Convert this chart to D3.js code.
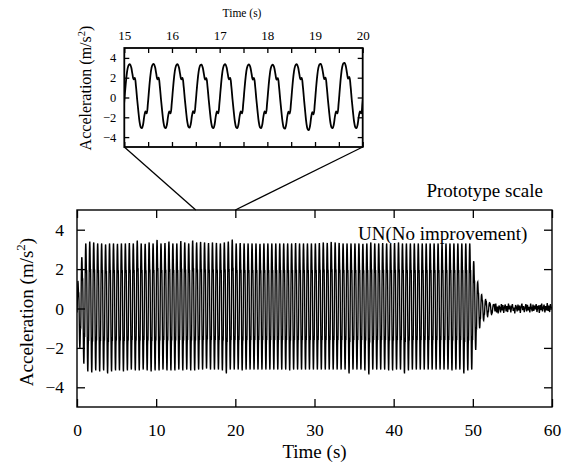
<!DOCTYPE html>
<html><head><meta charset="utf-8">
<script src="https://cdn.jsdelivr.net/npm/d3@7"></script>
<style>
body{margin:0;background:#fff}
svg{display:block}
text{font-family:"Liberation Serif","Times New Roman",Times,serif;fill:#000}
</style>
</head><body>
<svg id="c" width="574" height="466"></svg>
<script>
// ---------- data ----------
const mainXTicks = [0, 10, 20, 30, 40, 50, 60];
const mainYTicks = [-4, -2, 0, 2, 4];
const insetXTicks = [15, 16, 17, 18, 19, 20];
const insetXMinor = [15.5, 16.5, 17.5, 18.5, 19.5];
const insetYTicks = [-4, -2, 0, 2, 4];

// excitation: 2 Hz, first peak at 0.12 s
const firstPeakTime = 0.12;
const periodSec = 0.5;
// one reference cycle (peak to peak), 20 samples, m/s^2
const cycleShape = [3.30, 3.00, 2.35, 1.80, 1.95, 1.10, -0.20, -1.40, -2.45, -3.00,
                    -3.10, -2.70, -1.85, -1.40, -1.60, -0.60, 0.80, 2.05, 2.90, 3.25];
const shapePeak = 3.30, shapeTrough = -3.10;

// peak value of each cycle
const peaks = [
  1.40, 2.60, 3.30, 3.40, 3.35, 3.30, 3.30, 3.25, 3.30, 3.30,
  3.28, 3.30, 3.30, 3.32, 3.30, 3.45, 3.30, 3.28, 3.35, 3.30,
  3.48, 3.30, 3.32, 3.40, 3.30, 3.30, 3.42, 3.35, 3.30, 3.45,
  3.35, 3.38, 3.35, 3.32, 3.35, 3.33, 3.30, 3.35, 3.40, 3.50,
  3.30, 3.32, 3.30, 3.30, 3.30, 3.30, 3.28, 3.30, 3.30, 3.30,
  3.30, 3.30, 3.30, 3.30, 3.30, 3.32, 3.30, 3.30, 3.30, 3.30,
  3.30, 3.32, 3.35, 3.33, 3.38, 3.35, 3.33, 3.30, 3.30, 3.30,
  3.30, 3.30, 3.28, 3.30, 3.35, 3.30, 3.30, 3.32, 3.30, 3.30,
  3.32, 3.35, 3.30, 3.30, 3.30, 3.30, 3.30, 3.30, 3.30, 3.30,
  3.30, 3.30, 3.30, 3.30, 3.30, 3.30, 3.30, 3.30, 3.30, 3.30,
  2.40, 1.35, 0.70, 0.45, 0.30
];
// trough value of each cycle
const troughs = [
  -2.00, -2.80, -3.20, -3.25, -3.15, -3.20, -3.15, -3.30, -3.20, -3.15,
  -3.15, -3.20, -3.15, -3.10, -3.15, -3.15, -3.10, -3.15, -3.20, -3.15,
  -3.15, -3.10, -3.15, -3.15, -3.15, -3.10, -3.15, -3.10, -3.15, -3.15,
  -3.10, -3.10, -3.05, -3.10, -3.10, -3.10, -3.15, -3.30, -3.10, -3.10,
  -3.10, -3.15, -3.10, -3.10, -3.10, -3.10, -3.10, -3.10, -3.10, -3.10,
  -3.10, -3.10, -3.10, -3.15, -3.10, -3.10, -3.10, -3.10, -3.10, -3.10,
  -3.10, -3.10, -3.10, -3.10, -3.10, -3.10, -3.10, -3.10, -3.30, -3.10,
  -3.10, -3.10, -3.15, -3.35, -3.10, -3.10, -3.10, -3.10, -3.15, -3.15,
  -3.10, -3.10, -3.30, -3.15, -3.10, -3.10, -3.10, -3.10, -3.10, -3.10,
  -3.10, -3.10, -3.10, -3.10, -3.15, -3.10, -3.10, -3.30, -3.15, -3.10,
  -2.10, -1.00, -0.60, -0.40, -0.30
];
const startValue = -0.20;
// residual vibration after the excitation stops (0.1 s step)
const tailStart = 52.7, tailStep = 0.1;
const tail = [
  0.20, -0.15, 0.25, -0.20, 0.10, -0.25, 0.15, 0.05, -0.20, 0.22,
  -0.10, 0.18, -0.22, 0.08, 0.20, -0.15, 0.12, -0.18, 0.25, -0.05,
  0.15, -0.20, 0.10, 0.22, -0.12, 0.05, -0.25, 0.18, 0.08, -0.15,
  0.20, -0.10, 0.15, -0.22, 0.10, 0.25, -0.08, 0.12, -0.18, 0.05,
  0.22, -0.15, 0.18, -0.10, 0.08, -0.20, 0.25, 0.02, -0.15, 0.20,
  -0.12, 0.15, -0.05, 0.22, -0.18, 0.10, 0.12, -0.22, 0.18, -0.08,
  0.25, -0.15, 0.05, 0.20, -0.20, 0.12, -0.10, 0.28, -0.12, 0.15,
  -0.18, 0.22, 0.05, 0.02
];

// ---------- series assembly ----------
const series = [[0, startValue]];
peaks.forEach((pk, k) => {
  cycleShape.forEach((s, i) => {
    const phi = i / cycleShape.length;
    const t = firstPeakTime + periodSec * (k + phi);
    let v;
    if (s >= 0) {
      const ref = phi < 0.5 ? pk : (k + 1 < peaks.length ? peaks[k + 1] : 0.2);
      v = s * ref / shapePeak;
    } else {
      v = s * troughs[k] / shapeTrough;
    }
    series.push([t, v]);
  });
});
tail.forEach((v, i) => series.push([tailStart + tailStep * i, v]));

// ---------- drawing ----------
const svg = d3.select("#c");
const M = {l: 77, r: 552, t: 210, b: 407};
const I = {l: 124.3, r: 362.7, t: 48, b: 147};

const x = d3.scaleLinear().domain([0, 60]).range([M.l, M.r]);
const y = d3.scaleLinear().domain([-5, 5]).range([M.b, M.t]);
const xi = d3.scaleLinear().domain([15, 20]).range([I.l, I.r]);
const yi = d3.scaleLinear().domain([-5, 5]).range([I.b, I.t]);

const defs = svg.append("defs");
defs.append("clipPath").attr("id", "cm").append("rect")
  .attr("x", M.l).attr("y", M.t).attr("width", M.r - M.l).attr("height", M.b - M.t);
defs.append("clipPath").attr("id", "ci").append("rect")
  .attr("x", I.l).attr("y", I.t).attr("width", I.r - I.l).attr("height", I.b - I.t);

// main signal
svg.append("path").datum(series)
  .attr("clip-path", "url(#cm)")
  .attr("fill", "none").attr("stroke", "#000").attr("stroke-width", 1.35)
  .attr("d", d3.line().x(d => x(d[0])).y(d => y(d[1])));

function styleAxis(g, fs) {
  g.select(".domain").remove();
  g.selectAll("line").attr("stroke", "#000").attr("stroke-width", 1.3);
  g.selectAll("text").attr("font-size", fs).style("font-family", '"Liberation Serif","Times New Roman",serif').attr("fill", "#000");
}

// main axes (inward ticks)
svg.append("g").attr("transform", `translate(0,${M.b})`)
  .call(d3.axisBottom(x).tickValues(mainXTicks).tickSize(-8).tickPadding(17).tickFormat(d3.format("d")))
  .call(g => styleAxis(g, 17.5));
svg.append("g").attr("transform", `translate(0,${M.t})`)
  .call(d3.axisTop(x).tickValues(mainXTicks).tickSize(-8).tickFormat(""))
  .call(g => styleAxis(g, 17.5));
svg.append("g").attr("transform", `translate(${M.l},0)`)
  .call(d3.axisLeft(y).tickValues(mainYTicks).tickSize(-8).tickPadding(13).tickFormat(d3.format("d")))
  .call(g => styleAxis(g, 17.5));
svg.append("g").attr("transform", `translate(${M.r},0)`)
  .call(d3.axisRight(y).tickValues(mainYTicks).tickSize(-8).tickFormat(""))
  .call(g => styleAxis(g, 17.5));

svg.append("rect").attr("x", M.l).attr("y", M.t).attr("width", M.r - M.l).attr("height", M.b - M.t)
  .attr("fill", "none").attr("stroke", "#000").attr("stroke-width", 1.4);

// main labels
svg.append("text").attr("x", (M.l + M.r) / 2).attr("y", 458).attr("text-anchor", "middle")
  .attr("font-size", 19).text("Time (s)");
const yl = svg.append("text").attr("transform", "translate(33,312) rotate(-90)")
  .attr("text-anchor", "middle").attr("font-size", 19);
yl.append("tspan").text("Acceleration (m/s");
yl.append("tspan").attr("font-size", 13).attr("dy", -8).text("2");
yl.append("tspan").attr("dy", 8).text(")");

svg.append("text").attr("x", 543).attr("y", 197).attr("text-anchor", "end")
  .attr("font-size", 19).text("Prototype scale");
svg.append("text").attr("x", 358).attr("y", 240)
  .attr("font-size", 19).text("UN(No improvement)");

// connectors
svg.append("line").attr("x1", I.l).attr("y1", I.b).attr("x2", x(15)).attr("y2", M.t)
  .attr("stroke", "#000").attr("stroke-width", 1.3);
svg.append("line").attr("x1", I.r).attr("y1", I.b).attr("x2", x(20)).attr("y2", M.t)
  .attr("stroke", "#000").attr("stroke-width", 1.3);

// inset signal
const insetData = series.filter(d => d[0] >= 14.9 && d[0] <= 20.1);
svg.append("rect").attr("x", I.l).attr("y", I.t).attr("width", I.r - I.l).attr("height", I.b - I.t)
  .attr("fill", "#fff");
svg.append("path").datum(insetData)
  .attr("clip-path", "url(#ci)")
  .attr("fill", "none").attr("stroke", "#000").attr("stroke-width", 1.8)
  .attr("stroke-linejoin", "round")
  .attr("d", d3.line().curve(d3.curveCatmullRom).x(d => xi(d[0])).y(d => yi(d[1])));

const allInsetX = insetXTicks.concat(insetXMinor);
svg.append("g").attr("transform", `translate(0,${I.t})`)
  .call(d3.axisTop(xi).tickValues(allInsetX).tickSize(-5).tickPadding(8)
    .tickFormat(d => Number.isInteger(d) ? d3.format("d")(d) : ""))
  .call(g => styleAxis(g, 13));
svg.append("g").attr("transform", `translate(0,${I.b})`)
  .call(d3.axisBottom(xi).tickValues(allInsetX).tickSize(-5).tickFormat(""))
  .call(g => styleAxis(g, 13));
svg.append("g").attr("transform", `translate(${I.l},0)`)
  .call(d3.axisLeft(yi).tickValues(insetYTicks).tickSize(-5).tickPadding(8).tickFormat(d3.format("d")))
  .call(g => styleAxis(g, 12.5));
svg.append("g").attr("transform", `translate(${I.r},0)`)
  .call(d3.axisRight(yi).tickValues(insetYTicks).tickSize(-5).tickFormat(""))
  .call(g => styleAxis(g, 12.5));

svg.append("rect").attr("x", I.l).attr("y", I.t).attr("width", I.r - I.l).attr("height", I.b - I.t)
  .attr("fill", "none").attr("stroke", "#000").attr("stroke-width", 1.8);

svg.append("text").attr("x", 242).attr("y", 17).attr("text-anchor", "middle")
  .attr("font-size", 11.5).text("Time (s)");
const yli = svg.append("text").attr("transform", "translate(91,88) rotate(-90)")
  .attr("text-anchor", "middle").attr("font-size", 16);
yli.append("tspan").text("Acceleration (m/s");
yli.append("tspan").attr("font-size", 10.5).attr("dy", -6).text("2");
yli.append("tspan").attr("dy", 6).text(")");
</script>
</body></html>
